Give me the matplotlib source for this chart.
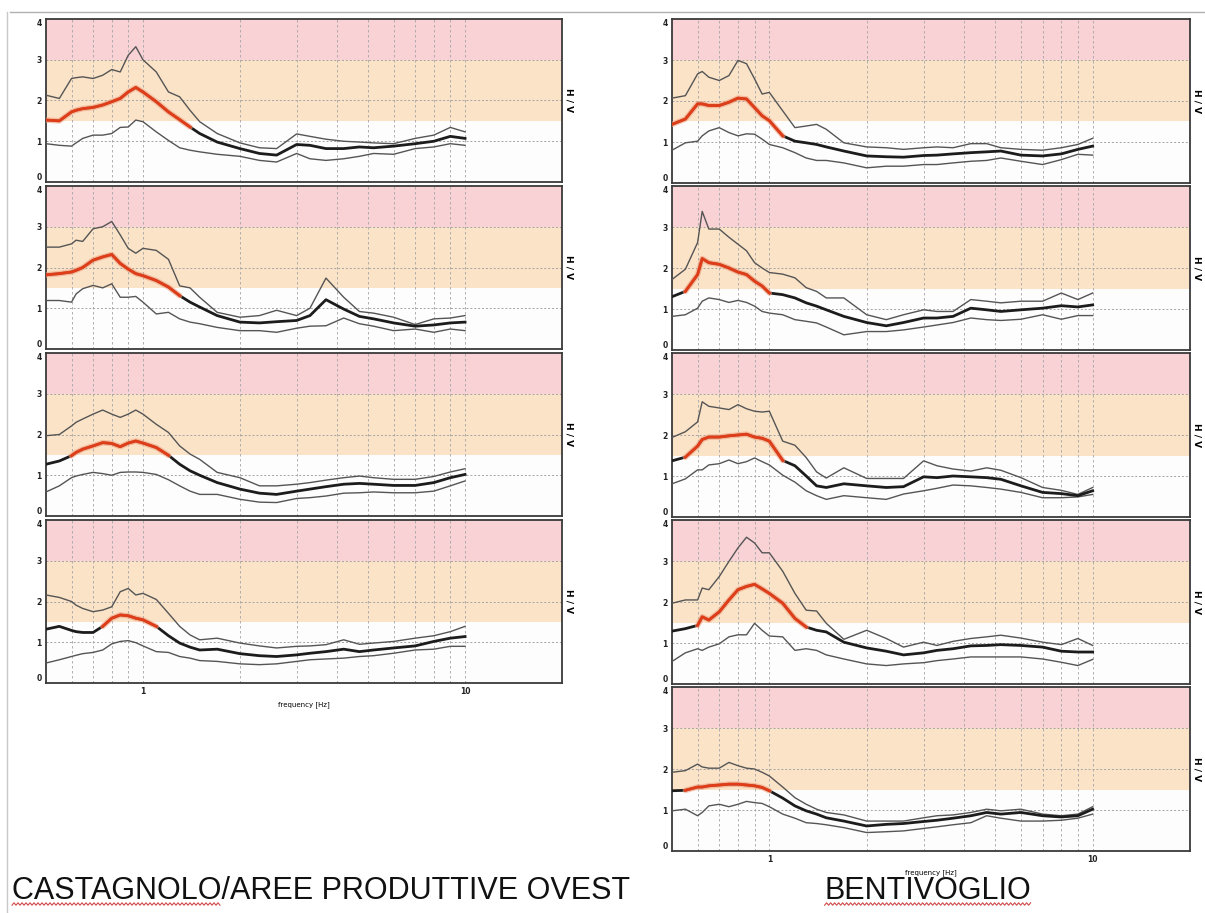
import numpy as np
import matplotlib
matplotlib.use("Agg")
import matplotlib.pyplot as plt
from matplotlib.lines import Line2D

# frequenze comuni (Hz)
FREQ = [0.5, 0.55, 0.6, 0.62, 0.65, 0.7, 0.75, 0.8, 0.85, 0.9, 0.95, 1.0,
        1.1, 1.2, 1.3, 1.4, 1.5, 1.7, 2.0, 2.3, 2.6, 3.0, 3.3, 3.7, 4.2,
        4.7, 5.2, 6.0, 7.0, 8.0, 9.0, 10.0]

# CASTAGNOLO / AREE PRODUTTIVE OVEST
L1_up = [2.13, 2.05, 2.54, 2.56, 2.58, 2.54, 2.62, 2.76, 2.7, 3.11, 3.32, 3.0, 2.7, 2.21, 2.09, 1.76,
         1.48, 1.19, 0.96, 0.84, 0.82, 1.18, 1.12, 1.05, 1.0, 0.98, 0.96, 0.94, 1.07, 1.15, 1.34, 1.23]
L1_hv = [1.52, 1.5, 1.72, 1.76, 1.8, 1.83, 1.89, 1.97, 2.05, 2.21, 2.32, 2.21, 1.97, 1.72, 1.53, 1.35,
         1.19, 0.98, 0.82, 0.7, 0.66, 0.92, 0.9, 0.82, 0.82, 0.86, 0.84, 0.88, 0.94, 1.0, 1.12, 1.07]
L1_lo = [0.94, 0.9, 0.88, 0.96, 1.07, 1.15, 1.15, 1.19, 1.34, 1.35, 1.52, 1.48, 1.23, 1.02, 0.84, 0.78,
         0.74, 0.68, 0.63, 0.53, 0.49, 0.7, 0.57, 0.53, 0.57, 0.63, 0.7, 0.68, 0.82, 0.86, 0.94, 0.9]

L2_up = [2.5, 2.5, 2.58, 2.67, 2.64, 2.95, 3.0, 3.13, 2.8, 2.47, 2.35, 2.47, 2.42, 2.2, 1.55, 1.5,
         1.27, 0.9, 0.78, 0.82, 0.95, 0.82, 1.0, 1.74, 1.27, 0.92, 0.88, 0.78, 0.6, 0.74, 0.76, 0.82]
L2_hv = [1.82, 1.85, 1.89, 1.93, 2.0, 2.18, 2.26, 2.32, 2.1, 1.96, 1.85, 1.8, 1.68, 1.52, 1.31, 1.15,
         1.03, 0.82, 0.66, 0.64, 0.67, 0.7, 0.82, 1.21, 0.98, 0.8, 0.74, 0.64, 0.56, 0.59, 0.64, 0.66]
L2_lo = [1.19, 1.19, 1.15, 1.35, 1.48, 1.56, 1.5, 1.6, 1.27, 1.27, 1.29, 1.15, 0.86, 0.9, 0.74, 0.66,
         0.62, 0.53, 0.45, 0.45, 0.41, 0.51, 0.56, 0.57, 0.76, 0.62, 0.56, 0.45, 0.49, 0.41, 0.49, 0.45]

L3_up = [1.97, 2.0, 2.21, 2.3, 2.38, 2.5, 2.6, 2.5, 2.42, 2.5, 2.6, 2.5, 2.25, 2.05, 1.72, 1.52,
         1.39, 1.07, 0.94, 0.74, 0.74, 0.78, 0.82, 0.88, 0.94, 0.98, 0.94, 0.9, 0.9, 0.97, 1.08, 1.16]
L3_hv = [1.27, 1.35, 1.48, 1.56, 1.64, 1.72, 1.8, 1.78, 1.7, 1.79, 1.84, 1.79, 1.68, 1.49, 1.27, 1.11,
         1.0, 0.82, 0.66, 0.56, 0.53, 0.61, 0.66, 0.72, 0.78, 0.8, 0.78, 0.75, 0.75, 0.82, 0.94, 1.02]
L3_lo = [0.59, 0.74, 0.94, 0.98, 1.02, 1.07, 1.04, 1.0, 1.07, 1.08, 1.08, 1.07, 1.02, 0.89, 0.74, 0.61,
         0.53, 0.53, 0.41, 0.34, 0.33, 0.43, 0.45, 0.49, 0.56, 0.57, 0.59, 0.57, 0.57, 0.61, 0.74, 0.86]

L4_up = [2.16, 2.1, 2.0, 1.91, 1.83, 1.75, 1.79, 1.87, 2.24, 2.32, 2.16, 2.2, 2.05, 1.71, 1.39, 1.18,
         1.06, 1.1, 0.98, 0.91, 0.86, 0.9, 0.91, 0.94, 1.06, 0.95, 0.98, 1.02, 1.1, 1.16, 1.26, 1.39]
L4_hv = [1.32, 1.39, 1.29, 1.26, 1.24, 1.24, 1.39, 1.59, 1.67, 1.65, 1.59, 1.55, 1.39, 1.16, 0.98, 0.88,
         0.81, 0.83, 0.72, 0.67, 0.65, 0.69, 0.73, 0.77, 0.83, 0.77, 0.81, 0.86, 0.91, 1.02, 1.1, 1.14]
L4_lo = [0.49, 0.57, 0.65, 0.68, 0.72, 0.75, 0.81, 0.96, 1.02, 1.04, 0.99, 0.91, 0.77, 0.75, 0.65, 0.61,
         0.55, 0.53, 0.47, 0.45, 0.47, 0.53, 0.57, 0.59, 0.61, 0.65, 0.67, 0.73, 0.81, 0.83, 0.9, 0.9]

# BENTIVOGLIO
R1_up = [2.07, 2.13, 2.66, 2.72, 2.58, 2.5, 2.62, 2.99, 2.91, 2.54, 2.17, 2.21, 1.76, 1.35, 1.39, 1.43,
         1.31, 0.98, 0.88, 0.86, 0.82, 0.86, 0.88, 0.86, 0.96, 0.96, 0.86, 0.82, 0.8, 0.86, 0.94, 1.09]
R1_hv = [1.43, 1.56, 1.93, 1.93, 1.89, 1.89, 1.97, 2.07, 2.05, 1.84, 1.64, 1.52, 1.15, 1.02, 0.98, 0.94,
         0.88, 0.78, 0.66, 0.64, 0.63, 0.67, 0.68, 0.71, 0.74, 0.76, 0.78, 0.68, 0.66, 0.71, 0.82, 0.9]
R1_lo = [0.8, 0.98, 1.02, 1.15, 1.27, 1.35, 1.23, 1.15, 1.2, 1.19, 1.07, 0.94, 0.86, 0.74, 0.61, 0.55,
         0.55, 0.49, 0.37, 0.41, 0.41, 0.45, 0.45, 0.49, 0.53, 0.55, 0.61, 0.53, 0.45, 0.57, 0.7, 0.68]

R2_up = [1.72, 1.97, 2.62, 3.38, 2.95, 2.95, 2.75, 2.58, 2.42, 2.13, 2.0, 1.89, 1.85, 1.76, 1.52, 1.43,
         1.27, 1.27, 0.86, 0.74, 0.86, 0.98, 0.94, 0.94, 1.23, 1.19, 1.15, 1.19, 1.19, 1.39, 1.23, 1.39]
R2_hv = [1.3, 1.43, 1.84, 2.23, 2.13, 2.09, 2.0, 1.9, 1.84, 1.68, 1.56, 1.39, 1.35, 1.27, 1.15, 1.07,
         0.98, 0.82, 0.67, 0.59, 0.67, 0.78, 0.78, 0.82, 1.02, 0.98, 0.94, 0.98, 1.02, 1.08, 1.05, 1.1]
R2_lo = [0.82, 0.86, 1.02, 1.19, 1.27, 1.23, 1.16, 1.21, 1.16, 1.07, 0.94, 0.9, 0.86, 0.74, 0.7, 0.66,
         0.56, 0.37, 0.45, 0.45, 0.49, 0.56, 0.61, 0.67, 0.78, 0.74, 0.72, 0.75, 0.86, 0.75, 0.84, 0.84]

R3_up = [1.94, 2.08, 2.32, 2.81, 2.7, 2.66, 2.62, 2.74, 2.64, 2.58, 2.56, 2.58, 1.85, 1.75, 1.45, 1.1,
         0.95, 1.2, 0.94, 0.94, 0.94, 1.37, 1.25, 1.17, 1.12, 1.2, 1.14, 0.96, 0.72, 0.65, 0.55, 0.72]
R3_hv = [1.37, 1.46, 1.73, 1.89, 1.95, 1.95, 1.98, 2.0, 2.02, 1.95, 1.92, 1.85, 1.38, 1.25, 1.0, 0.76,
         0.72, 0.81, 0.76, 0.72, 0.74, 0.98, 0.96, 1.0, 0.98, 0.96, 0.92, 0.76, 0.6, 0.57, 0.52, 0.64]
R3_lo = [0.81, 0.93, 1.15, 1.15, 1.27, 1.3, 1.39, 1.3, 1.35, 1.44, 1.35, 1.27, 1.02, 0.85, 0.64, 0.52,
         0.43, 0.52, 0.47, 0.43, 0.56, 0.64, 0.7, 0.78, 0.76, 0.72, 0.68, 0.6, 0.47, 0.47, 0.49, 0.55]

R4_up = [1.97, 2.05, 2.05, 2.34, 2.3, 2.62, 2.99, 3.32, 3.58, 3.44, 3.2, 3.2, 2.75, 2.21, 1.8, 1.78,
         1.48, 1.09, 1.31, 1.11, 0.9, 1.02, 0.94, 1.04, 1.11, 1.15, 1.19, 1.12, 1.02, 0.96, 1.11, 0.94]
R4_hv = [1.29, 1.35, 1.43, 1.64, 1.56, 1.76, 2.05, 2.3, 2.38, 2.43, 2.32, 2.21, 1.97, 1.6, 1.39, 1.31,
         1.27, 1.02, 0.88, 0.8, 0.71, 0.76, 0.82, 0.86, 0.93, 0.94, 0.96, 0.94, 0.9, 0.8, 0.78, 0.78]
R4_lo = [0.55, 0.76, 0.86, 0.82, 0.9, 0.98, 1.15, 1.2, 1.2, 1.48, 1.31, 1.17, 1.15, 0.82, 0.86, 0.82,
         0.71, 0.61, 0.49, 0.45, 0.49, 0.52, 0.57, 0.61, 0.66, 0.66, 0.66, 0.66, 0.61, 0.53, 0.45, 0.6]

R5_up = [1.92, 1.96, 2.12, 2.05, 2.02, 2.02, 2.16, 2.08, 2.02, 2.0, 1.92, 1.83, 1.56, 1.3, 1.14, 1.02,
         0.94, 0.88, 0.73, 0.73, 0.73, 0.81, 0.86, 0.88, 0.94, 1.02, 0.98, 1.02, 0.9, 0.86, 0.9, 1.08]
R5_hv = [1.47, 1.48, 1.56, 1.56, 1.59, 1.61, 1.63, 1.63, 1.61, 1.59, 1.55, 1.47, 1.29, 1.1, 0.98, 0.9,
         0.81, 0.73, 0.61, 0.65, 0.67, 0.72, 0.75, 0.8, 0.86, 0.94, 0.9, 0.94, 0.86, 0.83, 0.86, 1.02]
R5_lo = [0.98, 1.02, 0.86, 0.94, 1.1, 1.14, 1.08, 1.14, 1.21, 1.18, 1.16, 1.08, 0.9, 0.8, 0.69, 0.67,
         0.64, 0.57, 0.45, 0.47, 0.49, 0.55, 0.59, 0.64, 0.69, 0.86, 0.8, 0.73, 0.73, 0.75, 0.8, 0.9]

LEFT = [(L1_up, L1_hv, L1_lo), (L2_up, L2_hv, L2_lo), (L3_up, L3_hv, L3_lo), (L4_up, L4_hv, L4_lo)]
RIGHT = [(R1_up, R1_hv, R1_lo), (R2_up, R2_hv, R2_lo), (R3_up, R3_hv, R3_lo),
         (R4_up, R4_hv, R4_lo), (R5_up, R5_hv, R5_lo)]

TITLE_L = "CASTAGNOLO/AREE PRODUTTIVE OVEST"
TITLE_R = "BENTIVOGLIO"

W, H = 1205, 913
fig = plt.figure(figsize=(W / 100, H / 100), dpi=100)
fig.patch.set_facecolor("white")

PINK = "#f9d2d6"
PEACH = "#fbe3c7"
GRID = "#a4a4a4"


def hv_panel(x0, top, w, h, curves, bottom=False):
    ax = fig.add_axes([x0 / W, 1 - (top + h) / H, w / W, h / H])
    f = np.array(FREQ)
    up, hv, lo = [np.array(c) for c in curves]

    ax.set_xscale("log")
    ax.set_xlim(0.5, 20)
    ax.set_ylim(0, 4)
    ax.set_facecolor("#fdfdfd")
    ax.axhspan(3, 4, color=PINK, lw=0, zorder=0)
    ax.axhspan(1.5, 3, color=PEACH, lw=0, zorder=0)

    # griglia
    for y in [1, 2, 3]:
        ax.axhline(y, color=GRID, lw=0.7, ls=(0, (2, 2)), zorder=1)
    for xv in [0.6, 0.7, 0.8, 0.9, 1, 2, 3, 4, 5, 6, 7, 8, 9, 10]:
        ax.axvline(xv, color=GRID, lw=0.6, ls=(0, (3, 3)), zorder=1)

    ax.plot(f, up, color="#555555", lw=1.0, zorder=3)
    ax.plot(f, lo, color="#555555", lw=1.0, zorder=3)
    ax.plot(f, hv, color="#1c1c1c", lw=2.0, zorder=4)

    # picco in rosso (H/V sopra 1.5)
    mask = (hv >= 1.5) & (f < 2)
    ext = mask.copy()
    ext[:-1] |= mask[1:]
    ext[1:] |= mask[:-1]
    red = np.where(ext, hv, np.nan)
    ax.plot(f, red, color="#f4a07f", lw=4.0, alpha=0.6, zorder=5, solid_capstyle="round")
    ax.plot(f, red, color="#e03c18", lw=2.0, zorder=6)

    for s in ax.spines.values():
        s.set_color("#3a3a3a")
        s.set_linewidth(1.3)

    ax.set_yticks([0, 1, 2, 3, 4])
    ax.set_yticklabels(["0", "1", "2", "3", "4"], fontsize=5.5, fontweight="bold")
    ax.tick_params(axis="y", length=0, pad=3, colors="#222222")
    # 0 e 4 spostati verso l'interno per non sovrapporsi tra pannelli
    lbls = ax.get_yticklabels()
    lbls[0].set_va("bottom")
    lbls[-1].set_va("top")
    ax.minorticks_off()
    ax.set_xticks([1, 10])
    if bottom:
        ax.set_xticklabels(["1", "10"], fontsize=5.5, fontweight="bold")
        ax.tick_params(axis="x", length=0, pad=3, colors="#222222")
        ax.set_xlabel("frequency [Hz]", fontsize=5, labelpad=4)
    else:
        ax.set_xticklabels([])
        ax.tick_params(axis="x", length=0)
    ax.xaxis.set_minor_locator(matplotlib.ticker.NullLocator())

    ax.yaxis.set_label_position("right")
    ax.set_ylabel("H / V", rotation=270, fontsize=6.5, fontweight="bold", labelpad=8)
    return ax


tops_l = [19, 186, 353, 520]
tops_r = [19, 186, 353, 520, 687]
for i, c in enumerate(LEFT):
    hv_panel(46, tops_l[i], 516, 163, c, bottom=(i == len(LEFT) - 1))
for i, c in enumerate(RIGHT):
    hv_panel(672, tops_r[i], 518, 164, c, bottom=(i == len(RIGHT) - 1))

# titoli in basso
tprops = dict(fontsize=22, family="Liberation Sans", va="baseline", color="#111111")
t_left = fig.text(12 / W, 1 - 899 / H, TITLE_L, ha="left", **tprops)
t_right = fig.text(928 / W, 1 - 899 / H, TITLE_R, ha="center", **tprops)


# sottolineatura ondulata del correttore ortografico
def squiggle(xa, xb, y):
    xs = np.arange(xa, xb, 2.0)
    ys = y + np.where(np.arange(len(xs)) % 2 == 0, 1.2, -1.2)
    fig.add_artist(Line2D(xs / W, 1 - ys / H, color="#d04848", lw=0.8))


fig.canvas.draw()
rend = fig.canvas.get_renderer()
probe = fig.text(0, 0, "CASTAGNOLO", **tprops)
w_word = probe.get_window_extent(rend).width
probe.remove()
bb_r = t_right.get_window_extent(rend)
squiggle(12, 12 + w_word, 904)
squiggle(bb_r.x0, bb_r.x1, 904)

# bordi della pagina
fig.add_artist(Line2D([10 / W, 1], [1 - 12 / H, 1 - 12 / H], color="#b0b0b0", lw=1.0))
fig.add_artist(Line2D([7 / W, 7 / W], [1 - 12 / H, 0], color="#c8c8c8", lw=1.0))

fig.savefig("out.png", dpi=100)
